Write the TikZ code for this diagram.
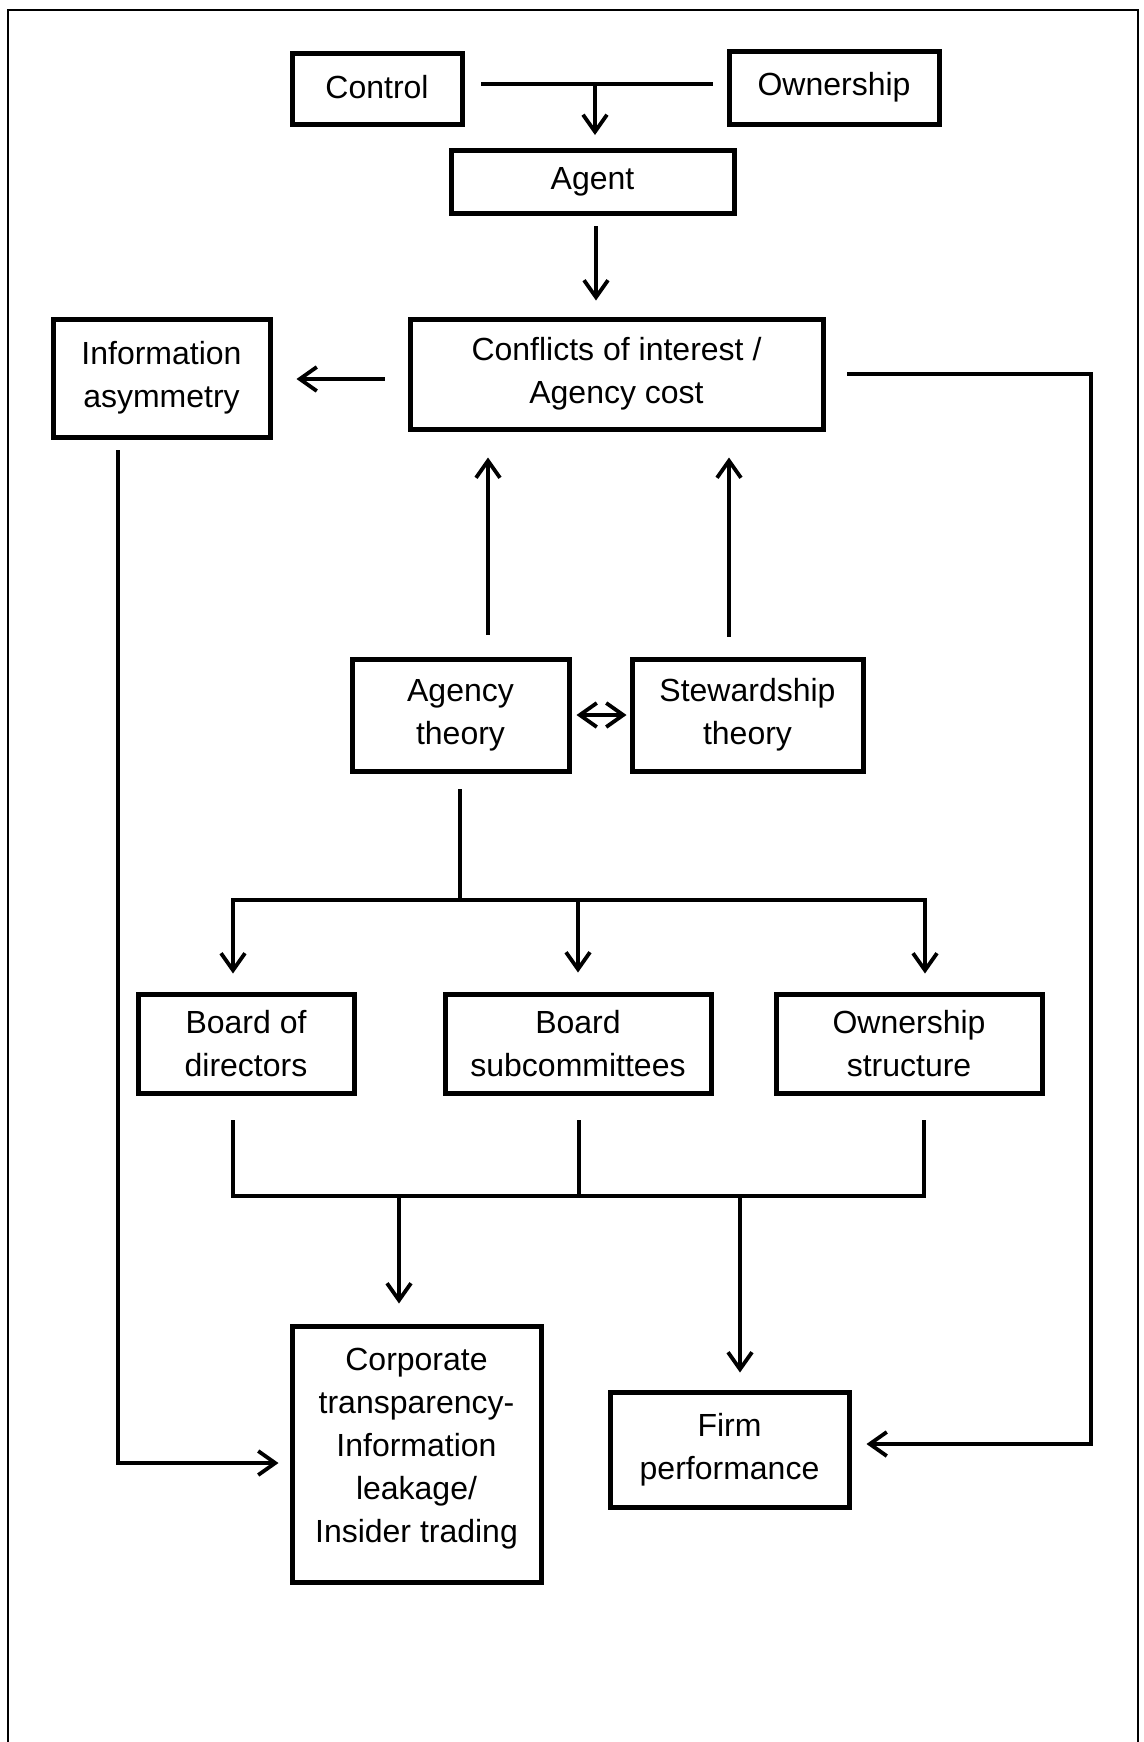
\documentclass[tikz,border=0pt]{standalone}
\usepackage{fontspec}
\setmainfont{Liberation Sans}
\usetikzlibrary{arrows.meta,calc}
\begin{document}
\begin{tikzpicture}[x=0.5pt,y=-0.5pt,
  box/.style={draw=black,line width=2.5pt,fill=white,align=center,inner sep=0pt,
    font=\fontsize{16}{21.5}\selectfont},
  conn/.style={line width=1.9pt,line cap=rect},
  tip/.tip={Straight Barb[length=8.5pt,width=12pt,line width=1.9pt]},
  arr/.style={conn,-tip},
  darr/.style={conn,tip-tip},
  frame/.style={line width=1pt}]
% page and outer frame (open at the bottom)
\useasboundingbox (0,0) rectangle (1144,1742);
\coordinate (fbl) at (8,1742);
\coordinate (ftl) at (8,10);
\coordinate (ftr) at (1138,10);
\coordinate (fbr) at (1138,1742);
\draw[frame] (fbl) -- (ftl) -- (ftr) -- (fbr);

% boxes
\node[box,minimum width=85pt,minimum height=35.5pt] (control) at (377,88.5) {\raisebox{1.5pt}{Control}};
\node[box,minimum width=105pt,minimum height=36.5pt] (ownership) at (834,87.5) {Ownership};
\node[box,minimum width=141.5pt,minimum height=31.5pt] (agent) at (592.5,182) {Agent};
\node[box,minimum width=108.5pt,minimum height=59pt] (info) at (161.5,378) {Information\\asymmetry};
\node[box,minimum width=206.5pt,minimum height=55pt] (conflict) at (616.5,374) {Conflicts of interest /\\Agency cost};
\node[box,minimum width=108.5pt,minimum height=56pt] (agency) at (460.5,715) {Agency\\theory};
\node[box,minimum width=115.5pt,minimum height=56pt] (steward) at (747.5,715) {Stewardship\\theory};
\node[box,minimum width=108pt,minimum height=49.5pt] (board) at (246,1043.5) {Board of\\directors};
\node[box,minimum width=133pt,minimum height=49.5pt] (subcom) at (578,1043.5) {Board\\subcommittees};
\node[box,minimum width=133pt,minimum height=49.5pt] (ostruct) at (909,1043.5) {Ownership\\structure};
\node[box,minimum width=124.5pt,minimum height=128pt] (corp) at (416.5,1454) {Corporate\\transparency-\\Information\\leakage/\\Insider trading\\[-12.75pt]};
\node[box,minimum width=119.5pt,minimum height=57.5pt] (firm) at (729.5,1449.5) {Firm\\performance};

% control and ownership separated, giving rise to the agent
\coordinate (coL) at (483,84);
\coordinate (coR) at (711,84);
\coordinate (coM) at (595,84);
\draw[conn] (coL) -- (coR);
\draw[arr,shorten >=6.5pt] (coM) -- (coM |- agent.north);

% agent to conflicts
\coordinate (agB) at (596,228);
\draw[arr,shorten >=8pt] (agB) -- (agB |- conflict.north);

% conflicts to information asymmetry
\coordinate (cfL) at (383,379);
\draw[arr,shorten >=12pt] (cfL) -- (cfL -| info.east);

% conflicts to firm performance, around the right side
\coordinate (cfR) at (849,374);
\coordinate (rtop) at (1091,374);
\coordinate (rbot) at (1091,1444);
\draw[arr,shorten >=7.5pt] (cfR) -- (rtop) -- (rbot) -- (rbot -| firm.east);

% information asymmetry to corporate transparency, around the left side
\coordinate (iaB) at (118,452);
\coordinate (lbot) at (118,1463);
\draw[arr,shorten >=5.5pt] (iaB) -- (lbot) -- (lbot -| corp.west);

% theories up to conflicts
\coordinate (agU) at (488,633);
\coordinate (stU) at (729,635);
\draw[arr,shorten >=13pt] (agU) -- (agU |- conflict.south);
\draw[arr,shorten >=13pt] (stU) -- (stU |- conflict.south);

% agency theory <-> stewardship theory
\draw[darr,shorten <=2.5pt,shorten >=1.5pt] (agency.east) -- (steward.west);

% agency theory down to the three mechanisms
\coordinate (agD) at (460,791);
\coordinate (split) at (460,900);
\coordinate (sL) at (233,900);
\coordinate (sM) at (578,900);
\coordinate (sR) at (925,900);
\draw[conn] (agD) -- (split);
\draw[conn] (sL) -- (sR);
\draw[arr,shorten >=9pt] (sL) -- (sL |- board.north);
\draw[arr,shorten >=9.5pt] (sM) -- (sM |- subcom.north);
\draw[arr,shorten >=9pt] (sR) -- (sR |- ostruct.north);

% mechanisms joined and leading to outcomes
\coordinate (jL) at (233,1122);
\coordinate (jM) at (579,1122);
\coordinate (jR) at (924,1122);
\coordinate (bL) at (233,1196);
\coordinate (bM) at (579,1196);
\coordinate (bR) at (924,1196);
\coordinate (oC) at (399,1196);
\coordinate (oF) at (740,1196);
\draw[conn] (jL) -- (bL);
\draw[conn] (jM) -- (bM);
\draw[conn] (jR) -- (bR);
\draw[conn] (bL) -- (bR);
\draw[arr,shorten >=10pt] (oC) -- (oC |- corp.north);
\draw[arr,shorten >=8.5pt] (oF) -- (oF |- firm.north);
\end{tikzpicture}
\end{document}
